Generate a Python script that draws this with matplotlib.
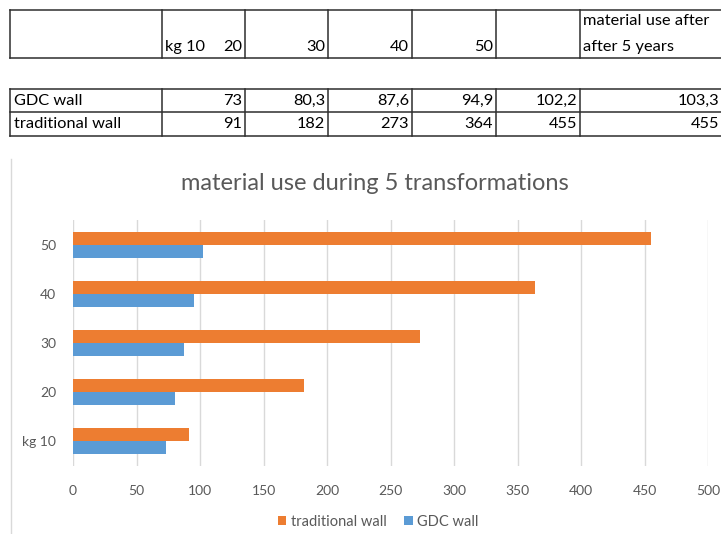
import matplotlib.pyplot as plt
import numpy as np

# data from the sheet
categories = ["kg 10", "20", "30", "40", "50"]
gdc_wall = [73, 80.3, 87.6, 94.9, 102.2]
traditional_wall = [91, 182, 273, 364, 455]
after_5_years = {"GDC wall": 103.3, "traditional wall": 455}
header_extra = ["material use after", "after 5 years"]

W, H = 721, 534
plt.rcParams['font.family'] = ['Lato', 'DejaVu Sans']

fig = plt.figure(figsize=(W / 100, H / 100), dpi=100)


def fx(x):
    return x / W


def fy(y):
    return 1 - y / H


def hline(x0, x1, y, **kw):
    fig.add_artist(plt.Line2D([fx(x0), fx(x1)], [fy(y), fy(y)], **kw))


def vline(x, y0, y1, **kw):
    fig.add_artist(plt.Line2D([fx(x), fx(x)], [fy(y0), fy(y1)], **kw))


def fmt(v):
    return f"{v:g}".replace(".", ",")


# ---- spreadsheet table ----
cols = [10, 162, 245, 328, 412, 496, 580, 722]
line_kw = dict(color="#2e2e2e", lw=1.1)
for y in [10, 58]:
    hline(cols[0], W, y, **line_kw)
for y in [89, 112, 136]:
    hline(cols[0], W, y, **line_kw)
for x in cols[:-1]:
    vline(x, 10, 58, **line_kw)
    vline(x, 89, 136, **line_kw)

tsize = 11.8
fig.text(fx(cols[1] + 3), fy(47), categories[0], fontsize=tsize, va="center", ha="left")
for i, c in enumerate(categories[1:], start=2):
    fig.text(fx(cols[i] - 3), fy(47), c, fontsize=tsize, va="center", ha="right")
fig.text(fx(cols[6] + 3), fy(21), header_extra[0], fontsize=tsize, va="center", ha="left")
fig.text(fx(cols[6] + 3), fy(47), header_extra[1], fontsize=tsize, va="center", ha="left")

rows = [("GDC wall", gdc_wall, 101), ("traditional wall", traditional_wall, 124)]
for name, vals, y in rows:
    fig.text(fx(cols[0] + 4), fy(y), name, fontsize=tsize, va="center", ha="left")
    for i, v in enumerate(vals, start=2):
        fig.text(fx(cols[i] - 3), fy(y), fmt(v), fontsize=tsize, va="center", ha="right")
    fig.text(fx(cols[7] - 3), fy(y), fmt(after_5_years[name]), fontsize=tsize,
             va="center", ha="right")

# ---- chart ----
vline(11, 159, H, color="#d9d9d9", lw=1.0)

ax = fig.add_axes([fx(73), fy(466), fx(708) - fx(73), fy(220) - fy(466)])
y = np.arange(len(categories))
bh = 0.265
ax.barh(y + bh / 2, traditional_wall, height=bh, color="#ED7D31", label="traditional wall")
ax.barh(y - bh / 2, gdc_wall, height=bh, color="#5B9BD5", label="GDC wall")

ax.set_xlim(0, 500)
ax.set_ylim(-0.5, len(categories) - 0.5)
ax.set_xticks(np.arange(0, 501, 50))
ax.set_yticks(y)
ax.set_yticklabels(categories)
ax.grid(axis="x", color="#d9d9d9", lw=1.0)
ax.set_axisbelow(True)
for s in ax.spines.values():
    s.set_visible(False)
ax.tick_params(length=0, labelsize=10, colors="#595959")
ax.tick_params(axis="x", pad=14)
ax.tick_params(axis="y", pad=12)

fig.text(fx(375), fy(183), "material use during 5 transformations", fontsize=17,
         color="#595959", ha="center", va="center")

fig.legend(loc="center", bbox_to_anchor=(fx(378), fy(522)), ncol=2, frameon=False,
           fontsize=10.5, labelcolor="#595959", handlelength=0.6, handleheight=0.6,
           handletextpad=0.3, columnspacing=1.2)

fig.savefig("out.png", dpi=100)
